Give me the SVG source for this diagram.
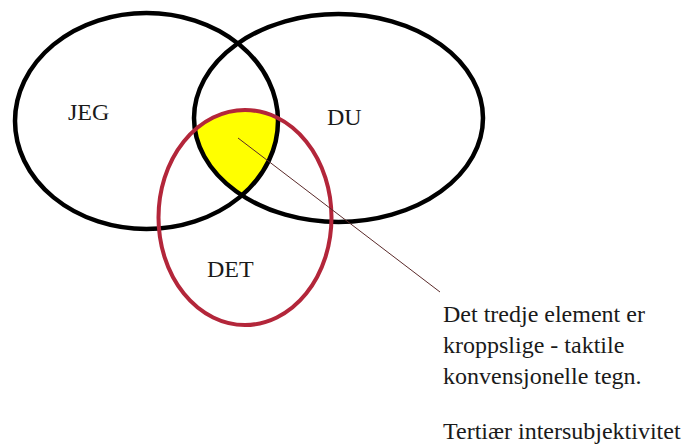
<svg xmlns="http://www.w3.org/2000/svg" width="699" height="447" viewBox="0 0 699 447">
<style>
.ring{fill:none;stroke:#000;stroke-width:4.5}
.red{fill:none;stroke:#b3263a;stroke-width:4}
.lbl{font-family:"Liberation Serif","Times New Roman",serif;font-size:24px;fill:#1a1a1a}
</style>
<defs>
<clipPath id="cJeg"><ellipse cx="146.5" cy="121" rx="131.5" ry="108"/></clipPath>
<clipPath id="cDu"><ellipse cx="338.5" cy="118" rx="144.5" ry="104"/></clipPath>
</defs>
<rect width="699" height="447" fill="#fff"/>
<g id="yellow">
<g clip-path="url(#cJeg)"><g clip-path="url(#cDu)"><ellipse cx="245" cy="217.5" rx="86.5" ry="107.5" fill="#ffff00"/></g></g>
</g>
<g id="jeg">
<ellipse class="ring" cx="146.5" cy="121" rx="131.5" ry="108"/>
<text class="lbl" x="68" y="120">JEG</text>
</g>
<g id="du">
<ellipse class="ring" cx="338.5" cy="118" rx="144.5" ry="104"/>
<text class="lbl" x="327" y="125">DU</text>
</g>
<g id="det">
<ellipse class="red" cx="245" cy="217.5" rx="86.5" ry="107.5"/>
<text class="lbl" x="207" y="277">DET</text>
</g>
<g id="connectors">
<line x1="238" y1="138" x2="440" y2="292" stroke="#5a2a2a" stroke-width="1"/>
</g>
<g id="note">
<text class="lbl" x="443" y="322">Det tredje element er</text>
<text class="lbl" x="443" y="353">kroppslige - taktile</text>
<text class="lbl" x="443" y="384">konvensjonelle tegn.</text>
<text class="lbl" x="443" y="439">Tertiær intersubjektivitet</text>
</g>
</svg>
